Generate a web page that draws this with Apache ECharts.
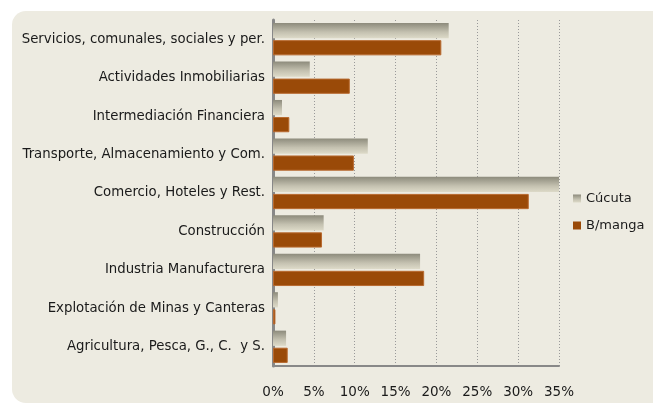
<!DOCTYPE html>
<html><head><meta charset="utf-8">
<script src="https://cdn.jsdelivr.net/npm/echarts@6/dist/echarts.min.js"></script>
<style>html,body{margin:0;padding:0;background:#fff}#c{width:653px;height:405px}</style>
</head><body><div id="c"></div>
<script>
var categories = ["Servicios, comunales, sociales y per.","Actividades Inmobiliarias","Intermediación Financiera","Transporte, Almacenamiento y Com.","Comercio, Hoteles y Rest.","Construcción","Industria Manufacturera","Explotación de Minas y Canteras","Agricultura, Pesca, G., C.  y S."];
var cucuta = [21.5, 4.5, 1.1, 11.6, 35.1, 6.2, 18.0, 0.6, 1.6];
var bmanga = [20.6, 9.4, 2.0, 9.9, 31.3, 6.0, 18.5, 0.3, 1.8];
var xTicks = [0, 5, 10, 15, 20, 25, 30, 35];
var chart = echarts.init(document.getElementById('c'));
var font = 'DejaVu Sans';
chart.setOption({
  animation: false,
  textStyle: {fontFamily: font},
  graphic: [{type:'rect', z:-10, shape:{x:12,y:11,width:700,height:392,r:14}, style:{fill:'#EDEBE1'}}],
  grid: {left: 273, right: 94, top: 20, bottom: 39, containLabel: false},
  legend: {
    orient: 'vertical', left: 568, top: 187, itemWidth: 8, itemHeight: 8, itemGap: 14,
    textStyle: {fontSize: 13, color: '#1a1a1a', fontFamily: font},
    data: [{name:'Cúcuta', icon:'rect'}, {name:'B/manga', icon:'rect', itemStyle:{borderWidth:0}}]
  },
  xAxis: {
    type: 'value', min: 0, max: 35, interval: 5,
    axisLine: {show: true, lineStyle: {color: '#888', width: 2}},
    axisTick: {show: false},
    axisLabel: {formatter: function(v){return xTicks.indexOf(v) >= 0 ? v + '%' : '';}, fontSize: 13.5, color: '#1a1a1a', margin: 19},
    splitLine: {show: true, lineStyle: {color: '#999', type: [1, 2], width: 1}}
  },
  yAxis: {
    type: 'category', data: categories, inverse: true,
    axisLine: {show: true, lineStyle: {color: '#888', width: 3}},
    axisTick: {show: false},
    axisLabel: {fontSize: 13.3, color: '#1a1a1a', margin: 8}
  },
  series: [
    {name: 'Cúcuta', type: 'bar', data: cucuta, barCategoryGap: '16%', barGap: '12%',
     itemStyle: {color: {type:'linear', x:0, y:0, x2:0, y2:1, colorStops:[{offset:0,color:'#8d8b7c'},{offset:0.6,color:'#c4c1b0'},{offset:1,color:'#dddac8'}]}}},
    {name: 'B/manga', type: 'bar', data: bmanga,
     itemStyle: {color: '#9A4A08', borderColor: '#b86a30', borderWidth: 1}}
  ]
});
</script></body></html>
